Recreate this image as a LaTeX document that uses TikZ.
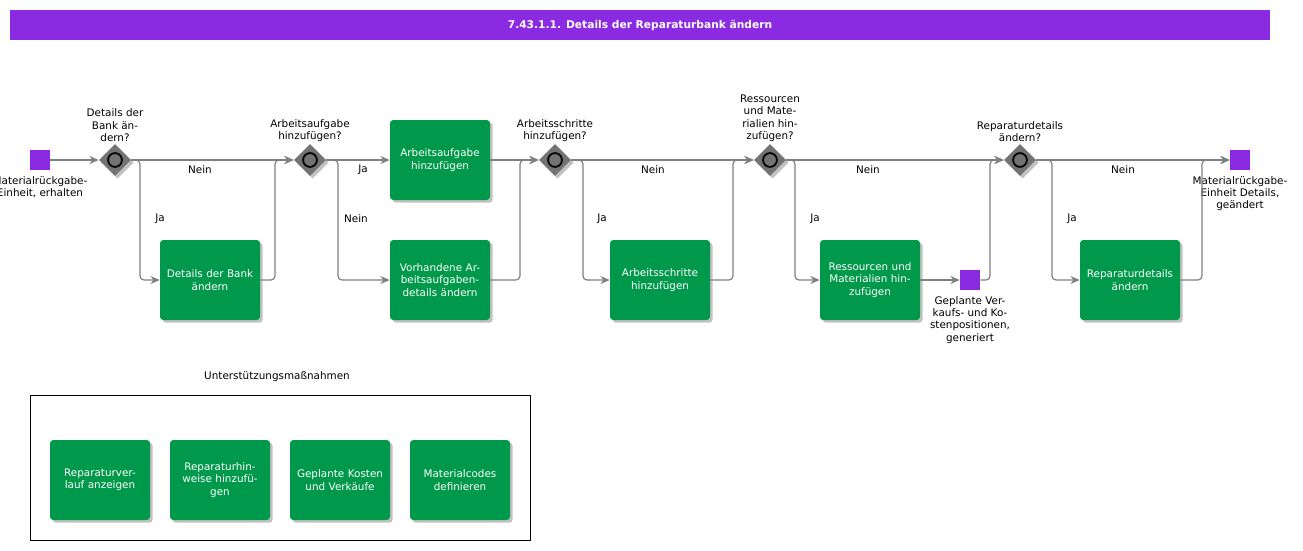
\documentclass[tikz,border=0pt]{standalone}
\usepackage{fontspec}
\setmainfont{DejaVu Sans}
\usetikzlibrary{shapes.geometric,arrows.meta,shadows}
\definecolor{vio}{HTML}{8A2BE2}
\definecolor{grn}{HTML}{00984A}
\begin{document}
\begin{tikzpicture}[x=0.75pt,y=-0.75pt,
  txt/.style={font=\fontsize{7.8}{9.3}\selectfont,align=center,inner sep=0},
  task/.style={draw=none,fill=grn,rounded corners=2.5pt,minimum width=75pt,minimum height=60pt,text width=72pt,txt,text=white,drop shadow={shadow xshift=2pt,shadow yshift=-2pt,fill=black!40,opacity=0.6}},
  ev/.style={fill=vio,minimum size=15pt,inner sep=0,draw=none},
  gw/.style={diamond,fill=gray!90!black,minimum size=24pt,inner sep=0,draw=none,drop shadow={shadow xshift=2pt,shadow yshift=-2pt,fill=black!40,opacity=0.6}},
  fl/.style={draw=gray,line width=0.9pt,-{Stealth[length=7pt,width=6pt]},rounded corners=3pt},
  ln/.style={draw=gray,line width=0.9pt,rounded corners=3pt},
  lb/.style={txt,text=black}]
\useasboundingbox (0,0) rectangle (1303,550);
\fill[vio] (10,10) rectangle (1270,40);
\node[txt,text=white,font=\fontsize{8}{9}\selectfont\bfseries] (title) at (640,25) {7.43.1.1. Details der Reparaturbank ändern};
% events
\node[ev] (s) at (40,160) {};
\node[lb,anchor=north] (sl) at (40,176) {Materialrückgabe-\\Einheit, erhalten};
\node[ev] (e) at (1240,160) {};
\node[lb,anchor=north] (el) at (1240,176) {Materialrückgabe-\\Einheit Details,\\geändert};
\node[ev] (m) at (970,280) {};
\node[lb,anchor=north] (ml) at (970,296) {Geplante Ver-\\kaufs- und Ko-\\stenpositionen,\\generiert};
% gateways
\foreach \n/\x in {g1/115,g2/310,g3/555,g4/770,g5/1020}{
  \node[gw] (\n) at (\x,160) {};
  \draw[line width=1.3pt,fill=gray!90!black] (\n) circle (5.2pt);
}
\node[lb,anchor=south] (g1l) at (115,142) {Details der\\Bank än-\\dern?};
\node[lb,anchor=south] (g2l) at (310,142) {Arbeitsaufgabe\\hinzufügen?};
\node[lb,anchor=south] (g3l) at (555,142) {Arbeitsschritte\\hinzufügen?};
\node[lb,anchor=south] (g4l) at (770,142) {Ressourcen\\und Mate-\\rialien hin-\\zufügen?};
\node[lb,anchor=south] (g5l) at (1020,142) {Reparaturdetails\\ändern?};
% tasks
\node[task] (t1) at (210,280) {Details der Bank\\ändern};
\node[task] (t2) at (440,160) {Arbeitsaufgabe\\hinzufügen};
\node[task] (t3) at (440,280) {Vorhandene Ar-\\beitsaufgaben-\\details ändern};
\node[task] (t4) at (660,280) {Arbeitsschritte\\hinzufügen};
\node[task] (t5) at (870,280) {Ressourcen und\\Materialien hin-\\zufügen};
\node[task] (t6) at (1130,280) {Reparaturdetails\\ändern};
% flows
\draw[fl] (s) -- (g1);
\draw[fl] (g1) -- (g2);
\draw[fl] (g1.east) -| (140,220) |- (t1);
\draw[fl] (t1) -| (275,200) |- (g2);
\draw[fl] (g2) -- (t2);
\draw[fl] (g2.east) -| (338,220) |- (t3);
\draw[fl] (t2) -- (g3);
\draw[fl] (t3) -| (520,200) |- (g3);
\draw[fl] (g3) -- (g4);
\draw[fl] (g3.east) -| (583,220) |- (t4);
\draw[fl] (t4) -| (733,200) |- (g4);
\draw[fl] (g4) -- (g5);
\draw[fl] (g4.east) -| (795,220) |- (t5);
\draw[fl] (t5) -- (m);
\draw[fl] (m) -| (990,200) |- (g5);
\draw[fl] (g5) -- (e);
\draw[fl] (g5.east) -| (1052,220) |- (t6);
\draw[fl] (t6) -| (1202,200) |- (e);
% flow labels
\node[lb] (n1) at (200,170) {Nein};
\node[lb] (j1) at (160,219) {Ja};
\node[lb] (j2) at (363,170) {Ja};
\node[lb] (n2) at (356,219) {Nein};
\node[lb] (n3) at (653,170) {Nein};
\node[lb] (j3) at (602,219) {Ja};
\node[lb] (n4) at (868,170) {Nein};
\node[lb] (j4) at (815,219) {Ja};
\node[lb] (n5) at (1123,170) {Nein};
\node[lb] (j5) at (1072,219) {Ja};
% support
\node[lb] (ul) at (277,377) {Unterstützungsmaßnahmen};
\draw[black,line width=0.6pt] (30,395) rectangle (530,540);
\node[task] (u1) at (100,480) {Reparaturver-\\lauf anzeigen};
\node[task] (u2) at (220,480) {Reparaturhin-\\weise hinzufü-\\gen};
\node[task] (u3) at (340,480) {Geplante Kosten\\und Verkäufe};
\node[task] (u4) at (460,480) {Materialcodes\\definieren};
\end{tikzpicture}
\end{document}
